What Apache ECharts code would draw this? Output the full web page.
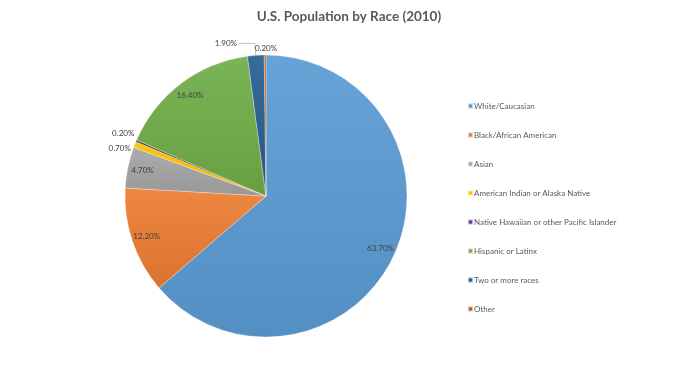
<!DOCTYPE html>
<html><head><meta charset="utf-8">
<script src="https://cdn.jsdelivr.net/npm/echarts@6/dist/echarts.min.js"></script>
<style>html,body{margin:0;padding:0;background:#fff}#c{width:690px;height:366px}</style>
</head><body><div id="c"></div>
<script>
const categories = ["White/Caucasian","Black/African American","Asian","American Indian or Alaska Native","Native Hawaiian or other Pacific Islander","Hispanic or Latinx","Two or more races","Other"];
const values = [63.7, 12.2, 4.7, 0.7, 0.2, 16.4, 1.9, 0.2];
const colors = ["#5b9bd5","#ed7d31","#a5a5a5","#ffc000","#7030a0","#70ad47","#255e91","#c55a11"];
const sliceColors = ["#5b9bd5","#ed7d31","#a5a5a5","#ffc000","#3a2a2a","#70ad47","#255e91","#c55a11"];
const insideLabel = [true, true, true, false, false, true, false, false];

function shade(hex, f){
  const n=parseInt(hex.slice(1),16);let r=n>>16,g=(n>>8)&255,b=n&255;
  const m=v=>Math.max(0,Math.min(255,Math.round(f>0? v+(255-v)*f : v*(1+f))));
  return 'rgb('+m(r)+','+m(g)+','+m(b)+')';
}
function grad(c){return new echarts.graphic.LinearGradient(0,0,0,1,[{offset:0,color:shade(c,0.08)},{offset:1,color:shade(c,-0.08)}]);}

const outsideLine = {
  "American Indian or Alaska Native":{length:1,length2:1,show:false},
  "Native Hawaiian or other Pacific Islander":{length:1,length2:1,show:false},
  "Two or more races":{length:12,length2:16,show:true},
  "Other":{length:1,length2:1,show:false}
};
const labelOffset = {
  "American Indian or Alaska Native":[0,4],
  "Native Hawaiian or other Pacific Islander":[2,-7],
  "Other":[15,-6]
};

const mainData = categories.map((n,i)=>({
  name:n, value:values[i],
  itemStyle:{color:grad(sliceColors[i])},
  label: insideLabel[i] ? {show:false} : {show:true, position:'outside', offset: labelOffset[n]||[0,0]},
  labelLine: outsideLine[n] || {show:false}
}));
const overlayData = categories.map((n,i)=>({
  name:n, value:values[i],
  label:{show:insideLabel[i]}
}));

const chart = echarts.init(document.getElementById('c'));
chart.setOption({
  animation:false,
  color: colors,
  title:{text:'U.S. Population by Race (2010)',left:344,top:5,textAlign:'center',
    textStyle:{fontFamily:'Lato',fontSize:13.5,fontWeight:'bold',color:'#595959'}},
  legend:{orient:'vertical',left:462,top:97,itemGap:21,itemWidth:5,itemHeight:5,icon:'rect',
    data:categories.map((n,i)=>({name:n,itemStyle:{color:colors[i]}})),
    textStyle:{fontFamily:'Lato',fontSize:8,color:'#595959',padding:[0,0,0,-4]}},
  series:[
    {type:'pie',center:[266,196],radius:[0,141],startAngle:90,clockwise:true,
     avoidLabelOverlap:false,
     data:mainData,
     itemStyle:{borderColor:'rgba(255,255,255,0.6)',borderWidth:0.5},
     label:{formatter:p=>p.value.toFixed(2)+'%',fontFamily:'Lato',fontSize:8,color:'#404040',distanceToLabelLine:2},
     labelLine:{lineStyle:{color:'#bfbfbf',width:1},smooth:false},
     emphasis:{disabled:true}},
    {type:'pie',center:[266,196],radius:[106,140],startAngle:90,clockwise:true,silent:true,
     avoidLabelOverlap:false,
     data:overlayData,
     itemStyle:{color:'rgba(0,0,0,0)',borderWidth:0},
     label:{position:'inside',formatter:p=>p.value.toFixed(2)+'%',fontFamily:'Lato',fontSize:8,color:'#404040'},
     labelLine:{show:false},
     emphasis:{disabled:true}}
  ]
});
</script></body></html>
